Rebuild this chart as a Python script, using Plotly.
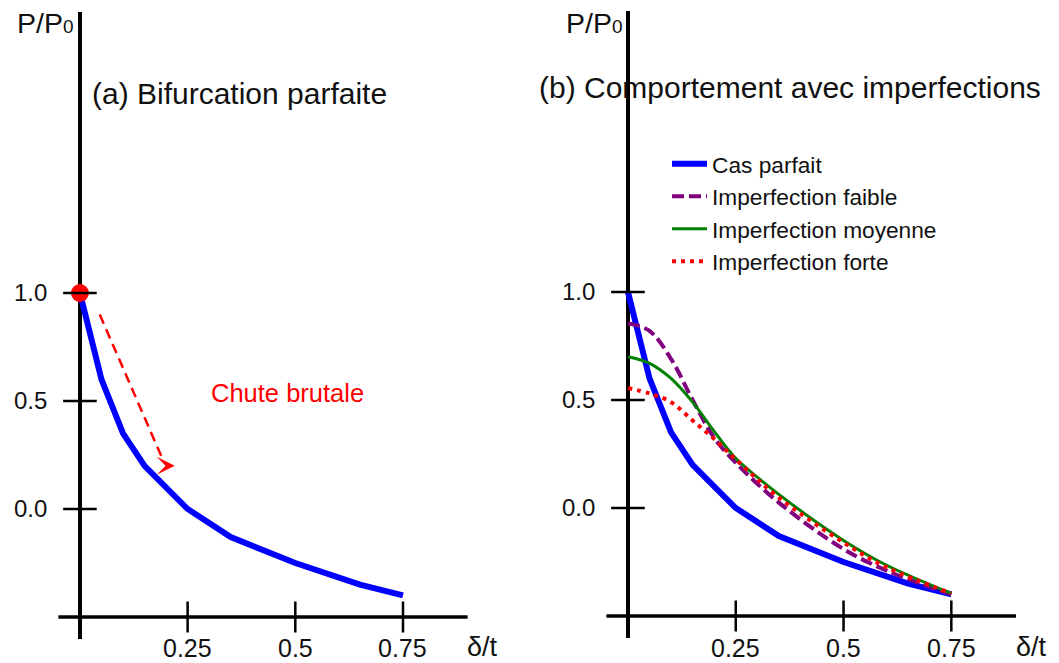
import plotly.graph_objects as go

W, H = 1059, 663

# ---------------- data ----------------
x_parfait = [0, 0.05, 0.10, 0.15, 0.25, 0.35, 0.50, 0.65, 0.75]
y_parfait = [1.0, 0.60, 0.35, 0.20, 0.0, -0.13, -0.25, -0.35, -0.40]

x_imp = [0, 0.05, 0.10, 0.15, 0.20, 0.25, 0.35, 0.50, 0.60, 0.75]
y_faible = [0.855, 0.82, 0.69, 0.50, 0.325, 0.21, 0.025, -0.19, -0.29, -0.40]
y_moyenne = [0.70, 0.67, 0.60, 0.49, 0.355, 0.23, 0.063, -0.15, -0.265, -0.395]
y_forte = [0.555, 0.53, 0.49, 0.405, 0.32, 0.225, 0.048, -0.16, -0.275, -0.395]

bif_point_x = [0]
bif_point_y = [1.0]
chute_x = [0.046, 0.19]
chute_y = [0.90, 0.24]
chute_tip = (0.22, 0.20)

x_tickvals = [0.25, 0.5, 0.75]
x_ticktext = ["0.25", "0.5", "0.75"]
y_tickvals = [0.0, 0.5, 1.0]
y_ticktext = ["0.0", "0.5", "1.0"]

series_names = ["Cas parfait", "Imperfection faible", "Imperfection moyenne", "Imperfection forte"]

X_RANGE = [-0.05, 0.9]
Y_RANGE = [-0.6, 2.3]
AXIS_Y = -0.5

FONT = "Liberation Sans, Arial, sans-serif"
TXT = "#111111"


def px(p):
    return p / W


def py(p):
    return 1 - p / H


fig = go.Figure()

# ---------------- left panel ----------------
fig.add_trace(go.Scatter(x=x_parfait, y=y_parfait, mode="lines",
                         line=dict(color="#0000FF", width=6),
                         xaxis="x", yaxis="y", showlegend=False))
fig.add_trace(go.Scatter(x=chute_x, y=chute_y, mode="lines",
                         line=dict(color="#FF0000", width=2.5, dash="10px,6px"),
                         xaxis="x", yaxis="y", showlegend=False))
fig.add_trace(go.Scatter(x=bif_point_x, y=bif_point_y, mode="markers",
                         marker=dict(color="#FF0000", size=18),
                         xaxis="x", yaxis="y", showlegend=False))

# ---------------- right panel ----------------
fig.add_trace(go.Scatter(x=x_parfait, y=y_parfait, mode="lines", name=series_names[0],
                         line=dict(color="#0000FF", width=6),
                         xaxis="x2", yaxis="y2"))
fig.add_trace(go.Scatter(x=x_imp, y=y_faible, mode="lines", name=series_names[1],
                         line=dict(color="#800080", width=4, dash="12px,5px", shape="spline"),
                         xaxis="x2", yaxis="y2"))
fig.add_trace(go.Scatter(x=x_imp, y=y_moyenne, mode="lines", name=series_names[2],
                         line=dict(color="#008000", width=3, shape="spline"),
                         xaxis="x2", yaxis="y2"))
fig.add_trace(go.Scatter(x=x_imp, y=y_forte, mode="lines", name=series_names[3],
                         line=dict(color="#FF0000", width=4, dash="4px,5px", shape="spline"),
                         xaxis="x2", yaxis="y2"))

# tick marks (crossing the axis lines) and x tick labels for both panels
for xa, ya in (("x", "y"), ("x2", "y2")):
    fig.add_trace(go.Scatter(x=x_tickvals, y=[AXIS_Y] * len(x_tickvals), mode="markers",
                             marker=dict(symbol="line-ns", size=22,
                                         line=dict(color="black", width=2.5)),
                             xaxis=xa, yaxis=ya, showlegend=False, hoverinfo="skip"))
    fig.add_trace(go.Scatter(x=[0] * len(y_tickvals), y=y_tickvals, mode="markers",
                             marker=dict(symbol="line-ew", size=24,
                                         line=dict(color="black", width=2.5)),
                             xaxis=xa, yaxis=ya, showlegend=False, hoverinfo="skip"))
    fig.add_shape(type="line", xref=f"{xa} domain", yref=ya, x0=0, x1=1,
                  y0=AXIS_Y, y1=AXIS_Y, line=dict(color="black", width=3.5), layer="below")
    for v, t in zip(x_tickvals, x_ticktext):
        fig.add_annotation(text=t, x=v, xref=xa, y=py(662.5), yref="paper",
                           xanchor="center", yanchor="bottom", showarrow=False,
                           borderpad=0,
                           font=dict(family=FONT, size=25, color=TXT))

xcommon = dict(range=X_RANGE, showgrid=False, showline=False, zeroline=True,
               zerolinecolor="black", zerolinewidth=3.5, automargin=False,
               showticklabels=False, ticks="", fixedrange=True)
ycommon = dict(range=Y_RANGE, showgrid=False, showline=False, zeroline=False,
               automargin=False,
               tickvals=y_tickvals, ticktext=y_ticktext, ticks="",
               ticklabelstandoff=10,
               tickfont=dict(family=FONT, size=24, color=TXT), fixedrange=True)

fig.update_layout(
    width=W, height=H,
    margin=dict(l=0, r=0, t=0, b=0, pad=0, autoexpand=False),
    paper_bgcolor="white", plot_bgcolor="rgba(0,0,0,0)",
    font=dict(family=FONT, color=TXT),
    xaxis=dict(domain=[px(58.4), px(467.6)], anchor="y", **xcommon),
    yaxis=dict(domain=[py(638.6), py(12.2)], anchor="x", **ycommon),
    xaxis2=dict(domain=[px(606.4), px(1016)], anchor="y2", **xcommon),
    yaxis2=dict(domain=[py(637.6), py(11.2)], anchor="x2", **ycommon),
    legend=dict(x=px(667), y=py(142.5), xanchor="left", yanchor="top",
                bgcolor="rgba(0,0,0,0)", borderwidth=0, itemwidth=35,
                font=dict(family=FONT, size=22.7, color=TXT), tracegroupgap=0),
    showlegend=True,
)

annots = [
    dict(text="P/P<span style='font-size:19px'>0</span>", x=px(75), y=py(23), xanchor="right", yanchor="middle", size=28.5, anchor_y="middle"),
    dict(text="P/P<span style='font-size:19px'>0</span>", x=px(624), y=py(23), xanchor="right", yanchor="middle", size=28.5),
    dict(text="(a) Bifurcation parfaite", x=px(91), y=py(94), xanchor="left", yanchor="middle", size=30),
    dict(text="(b) Comportement avec imperfections", x=px(538), y=py(88), xanchor="left", yanchor="middle", size=30),
    dict(text="δ/t", x=px(466), y=py(662.5), xanchor="left", yanchor="bottom", size=27),
    dict(text="δ/t", x=px(1015), y=py(662.5), xanchor="left", yanchor="bottom", size=27),
]
for a in annots:
    fig.add_annotation(text=a["text"], x=a["x"], y=a["y"], xref="paper", yref="paper",
                       xanchor=a["xanchor"], yanchor=a["yanchor"], showarrow=False,
                       borderpad=0,
                       font=dict(family=FONT, size=a["size"], color=TXT))

fig.add_annotation(text="Chute brutale", x=px(287), y=py(393), xref="paper", yref="paper",
                   xanchor="center", yanchor="middle", showarrow=False,
                   font=dict(family=FONT, size=25.5, color="#FF0000"))

# arrow head of the dashed "chute" arrow
fig.add_annotation(text="", x=chute_tip[0], y=chute_tip[1], xref="x", yref="y",
                   ax=-8, ay=0, showarrow=True, arrowhead=3, arrowsize=1.5,
                   arrowwidth=2, arrowcolor="#FF0000", standoff=0)

fig.write_html("out.html")
